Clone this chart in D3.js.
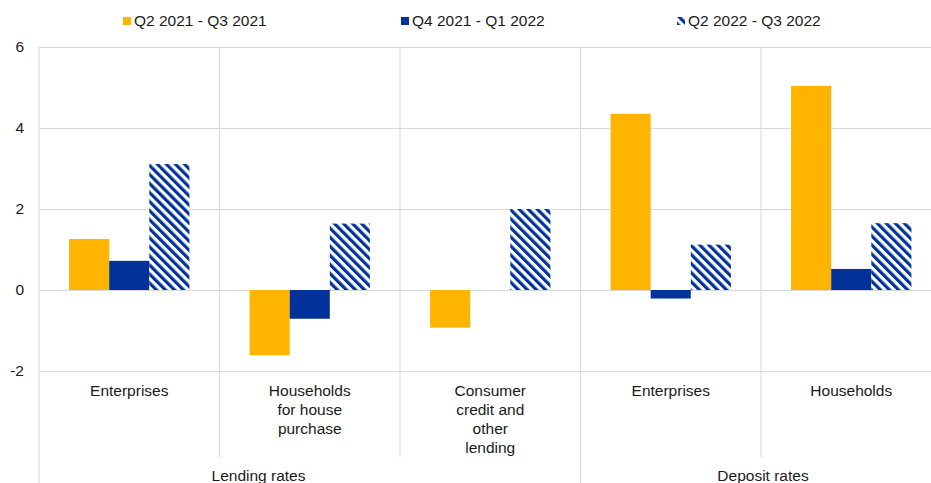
<!DOCTYPE html>
<html>
<head>
<meta charset="utf-8">
<script src="https://cdn.jsdelivr.net/npm/d3@7"></script>
<style>
  body { margin: 0; background: #fff; }
  svg { display: block; font-family: "Liberation Sans", Arial, sans-serif; }
</style>
</head>
<body>
<div id="chart"></div>
<script>
// Data
const categoryLabels = [
    ['Enterprises'],
    ['Households', 'for house', 'purchase'],
    ['Consumer', 'credit and', 'other', 'lending'],
    ['Enterprises'],
    ['Households']
];
const groupLabels = ['Lending rates', 'Deposit rates'];
const groupSizes = [3, 2];
const seriesNames = ['Q2 2021 - Q3 2021', 'Q4 2021 - Q1 2022', 'Q2 2022 - Q3 2022'];
const q2q3_2021 = [1.26, -1.61, -0.93, 4.35, 5.04];
const q4_2021_q1_2022 = [0.72, -0.71, 0.0, -0.21, 0.52];
const q2q3_2022 = [3.11, 1.64, 2.0, 1.12, 1.65];
const yTicks = [-2, 0, 2, 4, 6];

function renderChart() {
    const width = 931, height = 483;
    const plot = { left: 39, right: 941.5, top: 47, bottom: 371 };
    const gridColor = '#d9d9d9';
    const textColor = '#1a1a1a';
    const fontSize = '15.5px';

    const svg = d3.select('#chart').append('svg')
        .attr('width', width)
        .attr('height', height);

    // hatch pattern for third series
    const defs = svg.append('defs');
    const pat = defs.append('pattern')
        .attr('id', 'hatch')
        .attr('patternUnits', 'userSpaceOnUse')
        .attr('width', 6.4)
        .attr('height', 6.4)
        .attr('patternTransform', 'rotate(-45)');
    pat.append('rect').attr('width', 6.4).attr('height', 6.4).attr('fill', '#fff');
    pat.append('rect').attr('width', 3.2).attr('height', 6.4).attr('fill', '#003299');

    const fills = ['#ffb400', '#003299', 'url(#hatch)'];
    const seriesData = [q2q3_2021, q4_2021_q1_2022, q2q3_2022];

    // scales
    const idx = categoryLabels.map((d, i) => i);
    const x0 = d3.scaleBand().domain(idx).range([plot.left, plot.right]).padding(0);
    const x1 = d3.scaleBand().domain(seriesNames).range([0, x0.bandwidth()])
        .paddingInner(0).paddingOuter(0.75);
    const y = d3.scaleLinear().domain([-2, 6]).range([plot.bottom, plot.top]);

    // horizontal gridlines + y labels
    const yAxis = svg.append('g')
        .attr('transform', `translate(${plot.left},0)`)
        .call(d3.axisLeft(y).tickValues(yTicks).tickFormat(d => String(d))
            .tickSize(-(plot.right - plot.left)).tickPadding(15));
    yAxis.select('.domain').remove();
    yAxis.selectAll('.tick line').attr('stroke', gridColor);
    yAxis.selectAll('.tick text')
        .attr('fill', textColor)
        .style('font-size', fontSize)
        .style('font-family', '"Liberation Sans", Arial, sans-serif');

    // vertical gridlines in plot at category boundaries
    const bounds = idx.map(i => x0(i)).concat([plot.right]);
    svg.append('g').selectAll('line')
        .data(bounds)
        .join('line')
        .attr('x1', d => d).attr('x2', d => d)
        .attr('y1', plot.top).attr('y2', plot.bottom)
        .attr('stroke', gridColor);

    // category separators below axis
    const groupBounds = [0];
    groupSizes.forEach((s, i) => groupBounds.push(groupBounds[i] + s));
    svg.append('g').selectAll('line')
        .data(bounds.map((b, i) => ({ x: b, group: groupBounds.includes(i) })))
        .join('line')
        .attr('x1', d => d.x).attr('x2', d => d.x)
        .attr('y1', plot.bottom)
        .attr('y2', d => d.group ? height : 457)
        .attr('stroke', gridColor);

    // bars
    seriesNames.forEach((name, s) => {
        svg.append('g').selectAll('rect')
            .data(seriesData[s])
            .join('rect')
            .attr('x', (d, i) => x0(i) + x1(name))
            .attr('y', d => y(Math.max(0, d)))
            .attr('width', x1.bandwidth())
            .attr('height', d => Math.abs(y(d) - y(0)))
            .attr('fill', fills[s]);
    });

    // category labels (multi-line)
    const xAxis = svg.append('g')
        .attr('transform', `translate(0,${plot.bottom})`)
        .call(d3.axisBottom(x0).tickSize(0).tickFormat(''));
    xAxis.select('.domain').remove();
    xAxis.selectAll('.tick').each(function (i) {
        const t = d3.select(this).select('text')
            .attr('y', 0)
            .attr('dy', null)
            .attr('fill', textColor)
            .style('font-size', fontSize)
            .style('font-family', '"Liberation Sans", Arial, sans-serif');
        categoryLabels[i].forEach((line, k) => {
            t.append('tspan').attr('x', 0).attr('y', 25 + k * 19).text(line);
        });
    });

    // group labels (the reference sets the lending label left of its span centre)
    const groupLabelX = [258.5, 763];
    svg.append('g').selectAll('text')
        .data(groupLabels)
        .join('text')
        .attr('x', (d, g) => groupLabelX[g])
        .attr('y', 481)
        .attr('text-anchor', 'middle')
        .attr('fill', textColor)
        .style('font-size', fontSize)
        .text(d => d);

    // legend
    const legendX = [123, 401, 677];
    const legend = svg.append('g').selectAll('g')
        .data(seriesNames)
        .join('g')
        .attr('transform', (d, i) => `translate(${legendX[i]},17)`);
    legend.append('rect')
        .attr('width', 8).attr('height', 8)
        .attr('fill', (d, i) => fills[i]);
    legend.append('text')
        .attr('x', 11).attr('y', 9)
        .attr('fill', textColor)
        .style('font-size', fontSize)
        .text(d => d);
}

renderChart();
</script>
</body>
</html>
